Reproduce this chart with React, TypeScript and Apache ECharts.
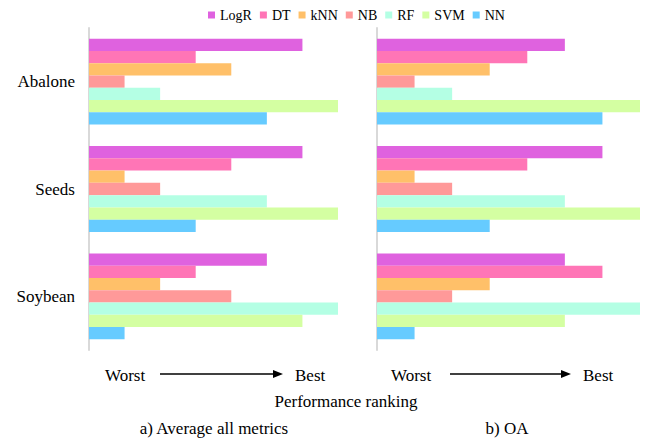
import React, { useEffect, useRef } from "react";
import * as echarts from "echarts";

const categories = ["Abalone", "Seeds", "Soybean"];
const seriesNames = ["LogR", "DT", "kNN", "NB", "RF", "SVM", "NN"];
const colors = ["#DF62DF", "#FF75B6", "#FFC069", "#FF9999", "#B4FFE4", "#D4FFA2", "#66CBFF"];

// Performance rank (1 = worst, 7 = best), per series: [Abalone, Seeds, Soybean]
const rankAverage: number[][] = [
  [6, 6, 5], // LogR
  [3, 4, 3], // DT
  [4, 1, 2], // kNN
  [1, 2, 4], // NB
  [2, 5, 7], // RF
  [7, 7, 6], // SVM
  [5, 3, 1], // NN
];
const rankOA: number[][] = [
  [5, 6, 5], // LogR
  [4, 4, 6], // DT
  [3, 1, 3], // kNN
  [1, 2, 2], // NB
  [2, 5, 7], // RF
  [7, 7, 5], // SVM
  [6, 3, 1], // NN
];

const panelTitles = ["a) Average all metrics", "b) OA"];
const FONT = "Liberation Serif, DejaVu Serif, serif";

export default function App() {
  const ref = useRef<HTMLDivElement>(null);
  useEffect(() => {
    if (!ref.current) return;
    document.body.style.margin = "0";
    const chart = echarts.init(ref.current, null, { renderer: "svg" });
    const grids = [
      { left: 89, top: 28, width: 249, height: 322 },
      { left: 377, top: 28, width: 263, height: 322 },
    ];
    const series: any[] = [];
    [rankAverage, rankOA].forEach((data, gi) => {
      seriesNames.forEach((name, si) => {
        series.push({
          type: "bar",
          name,
          xAxisIndex: gi,
          yAxisIndex: gi,
          data: data[si],
          barCategoryGap: "20%",
          barGap: "0%",
          itemStyle: { color: colors[si] },
        });
      });
    });
    const arrow = (x1: number, x2: number, y: number) => [
      { type: "line", shape: { x1, y1: y, x2: x2 - 8, y2: y }, style: { stroke: "#000", lineWidth: 1.5 } },
      { type: "polygon", shape: { points: [[x2 - 10, y - 4], [x2, y], [x2 - 10, y + 4]] }, style: { fill: "#000" } },
    ];
    const txt = (x: number, y: number, text: string, align = "center") => ({
      type: "text",
      x,
      y,
      style: { text, fontFamily: FONT, fontSize: 17, fill: "#000", align, verticalAlign: "middle" },
    });
    chart.setOption({
      animation: false,
      legend: {
        data: seriesNames,
        top: 3,
        left: 203,
        itemWidth: 7,
        itemHeight: 7,
        itemGap: 8,
        icon: "rect",
        textStyle: { fontFamily: FONT, fontSize: 14, color: "#000" },
      },
      grid: grids,
      xAxis: grids.map((_, i) => ({
        type: "value",
        gridIndex: i,
        min: 0,
        max: 7,
        show: false,
      })),
      yAxis: grids.map((_, i) => ({
        type: "category",
        gridIndex: i,
        data: categories,
        inverse: true,
        axisLine: { show: true, lineStyle: { color: "#D9D9D9", width: 2 } },
        axisTick: { show: false },
        axisLabel: {
          show: i === 0,
          fontFamily: FONT,
          fontSize: 17,
          color: "#000",
          margin: 14,
        },
      })),
      series,
      graphic: [
        txt(105, 375, "Worst", "left"),
        ...arrow(160, 283, 374),
        txt(295, 375, "Best", "left"),
        txt(391, 375, "Worst", "left"),
        ...arrow(450, 571, 374),
        txt(583, 375, "Best", "left"),
        txt(346, 401, "Performance ranking"),
        txt(214, 428, panelTitles[0]),
        txt(507, 428, panelTitles[1]),
      ],
    });
    return () => chart.dispose();
  }, []);
  return <div ref={ref} style={{ width: 648, height: 441 }} />;
}
